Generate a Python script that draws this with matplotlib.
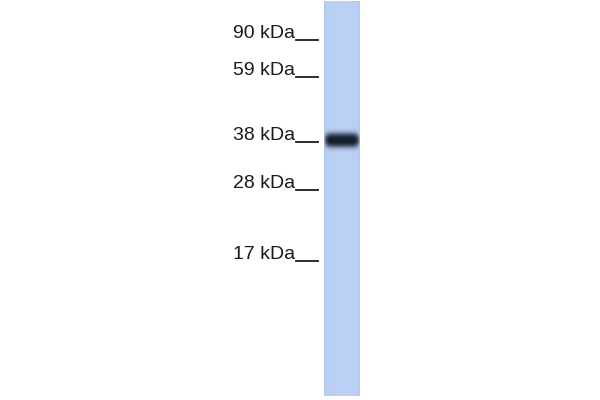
import numpy as np
import matplotlib
matplotlib.use("Agg")
import matplotlib.pyplot as plt

# marker ladder (kDa) and their positions on the blot, in pixels from the top
marker_labels = ["90 kDa", "59 kDa", "38 kDa", "28 kDa", "17 kDa"]
marker_y = [38, 75, 140, 188, 259]

# one lane, one band
lane_left, lane_right = 324, 360
lane_top, lane_bottom = 1, 396
band_y = 140
band_height = 15
band_strength = 0.97

fig = plt.figure(figsize=(6, 4), dpi=100)
ax = fig.add_axes([0, 0, 1, 1])
ax.set_xlim(0, 600)
ax.set_ylim(400, 0)
ax.axis("off")

# lane: light blue with slightly darker edges
w = lane_right - lane_left
h = lane_bottom - lane_top
xx = np.linspace(-1, 1, w)
yy = np.linspace(lane_top, lane_bottom, h)
X, Y = np.meshgrid(xx, yy)
edge = 0.05 * np.abs(X) ** 6
base = np.array([0.73, 0.82, 0.96])
img = np.ones((h, w, 3)) * base
img -= edge[..., None] * np.array([0.6, 0.5, 0.1])

# band: dark navy, rounded soft ends
r = ((Y - band_y) / (band_height / 2)) ** 2 + (X / 0.98) ** 8
dens = band_strength * np.exp(-r ** 1.5)
dark = np.array([0.07, 0.10, 0.15])
img = img * (1 - dens[..., None]) + dark * dens[..., None]

ax.imshow(np.clip(img, 0, 1), extent=[lane_left, lane_right, lane_bottom, lane_top],
          interpolation="bilinear", aspect="auto")

# ladder labels with underline ticks
for lab, y in zip(marker_labels, marker_y):
    ax.text(295, y, lab, ha="right", va="baseline", fontsize=14,
            family="Liberation Sans", color="#1a1a1a")
    ax.plot([296, 318], [y + 2, y + 2], color="#1a1a1a", lw=1.3)

fig.savefig("out.png", dpi=100)
